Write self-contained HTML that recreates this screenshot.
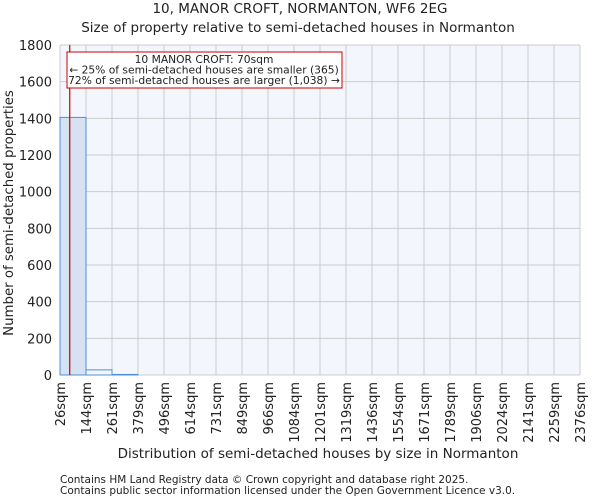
<!DOCTYPE html>
<html><head><meta charset="utf-8"><style>
body{margin:0;background:#fff;font-family:"DejaVu Sans","Liberation Sans",sans-serif;}
svg text{font-family:"DejaVu Sans","Liberation Sans",sans-serif;fill:#222;}
</style></head><body>
<svg width="600" height="500">
<text x="300" y="13" font-size="13.5" text-anchor="middle">10, MANOR CROFT, NORMANTON, WF6 2EG</text>
<text x="298" y="32" font-size="13.5" text-anchor="middle">Size of property relative to semi-detached houses in Normanton</text>
<g id="plot"></g>
<text x="318" y="458" font-size="13.5" text-anchor="middle">Distribution of semi-detached houses by size in Normanton</text>
<text x="13" y="213" font-size="13.3" text-anchor="middle" transform="rotate(-90 13 213)">Number of semi-detached properties</text>
<text x="60" y="483" font-size="10.5" fill="#444">Contains HM Land Registry data © Crown copyright and database right 2025.</text>
<text x="60" y="494" font-size="10.5" fill="#444">Contains public sector information licensed under the Open Government Licence v3.0.</text>
</svg>
<script>
const binLabels=["26sqm","144sqm","261sqm","379sqm","496sqm","614sqm","731sqm","849sqm","966sqm","1084sqm","1201sqm","1319sqm","1436sqm","1554sqm","1671sqm","1789sqm","1906sqm","2024sqm","2141sqm","2259sqm","2376sqm"];
const counts=[1405,28,3,0,0,0,0,0,0,0,0,0,0,0,0,0,0,0,0,0];
const yTicks=[0,200,400,600,800,1000,1200,1400,1600,1800];
const propertySize=70;
const binStart=26, binWidth=117.5;
const X0=60,X1=580,Y0=375,Y1=45,YMAX=1800;
const nb=counts.length;
const xs=v=>X0+(v-binStart)/(binWidth*nb)*(X1-X0);
const ys=v=>Y0-v/YMAX*(Y0-Y1);
const NS="http://www.w3.org/2000/svg";
const g=document.getElementById('plot');
function mk(t,a){const e=document.createElementNS(NS,t);for(const k in a)e.setAttribute(k,a[k]);g.appendChild(e);return e;}
let bg=mk('rect',{x:X0,y:Y1,width:X1-X0,height:Y0-Y1,fill:'#f3f6fd'});


yTicks.forEach(t=>{
 let l=mk('line',{x1:X0,x2:X1,y1:ys(t),y2:ys(t),stroke:'#cccccc','stroke-width':1});
 
 
 let tx=mk('text',{x:X0-8,y:ys(t)+5,'font-size':13,'text-anchor':'end'});tx.textContent=t;
 
 
});
binLabels.forEach((lb,i)=>{
 const x=xs(binStart+i*binWidth);
 let l=mk('line',{x1:x,x2:x,y1:Y1,y2:Y0,stroke:'#cccccc','stroke-width':1});
 
 
 let tx=mk('text',{x:0,y:0,'font-size':13,'text-anchor':'end',transform:`translate(${x+5},382) rotate(-90)`});tx.textContent=lb;
 
 
});
counts.forEach((c,i)=>{
 const xa=xs(binStart+i*binWidth),xb=xs(binStart+(i+1)*binWidth);
 let r=mk('rect',{x:xa,y:ys(c),width:xb-xa,height:Y0-ys(c),fill:i==0?'#d6e1f2':'#f3f6fd',stroke:'#4f8fd8','stroke-width':1});
 
 
});
let ml=mk('line',{x1:xs(propertySize),x2:xs(propertySize),y1:Y1,y2:Y0,stroke:'#cc0000','stroke-width':1.2});


let box=mk('rect',{x:67,y:52,width:275,height:36,fill:'#fff',stroke:'#cc0000','stroke-width':1});


["10 MANOR CROFT: 70sqm","← 25% of semi-detached houses are smaller (365)","72% of semi-detached houses are larger (1,038) →"].forEach((s,i)=>{
 let t=mk('text',{x:204,y:63+i*10.5,'font-size':10.7,'text-anchor':'middle'});t.textContent=s;
 
 
});
</script>
</body></html>
